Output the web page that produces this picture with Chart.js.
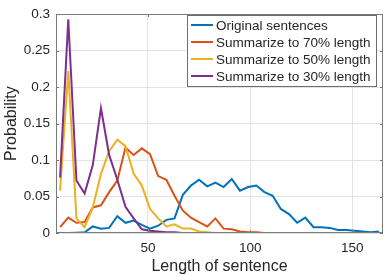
<!DOCTYPE html>
<html>
<head>
<meta charset="utf-8">
<script src="https://cdn.jsdelivr.net/npm/chart.js@4/dist/chart.umd.min.js"></script>
<style>
  html, body { margin: 0; padding: 0; background: #fff; }
  #wrap { width: 390px; height: 276px; }
</style>
</head>
<body>
<div id="wrap"><canvas id="lenChart" width="390" height="276"></canvas></div>
<script>
  // sentence length bins (x axis)
  const lengths = [7, 11, 15, 19, 23, 27, 31, 35, 39, 43, 47, 51, 55, 59, 63, 67, 71, 75, 79, 83,
                   87, 91, 95, 99, 103, 107, 111, 115, 119, 123, 127, 131, 135, 139, 143, 147, 151, 155, 159, 163];

  const seriesNames = ['Original sentences', 'Summarize to 70% length', 'Summarize to 50% length', 'Summarize to 30% length'];

  const original = [0, 0, 0.0005, 0.001, 0.009, 0.006, 0.007, 0.023, 0.014, 0.017, 0.011, 0.006, 0.010, 0.018, 0.020, 0.052, 0.065, 0.073, 0.064, 0.069,
                    0.063, 0.074, 0.058, 0.063, 0.065, 0.056, 0.051, 0.033, 0.026, 0.014, 0.021, 0.008, 0.008, 0.007, 0.004, 0.004, 0.003, 0.002, 0.001, 0.002];
  const sum70 = [0.008, 0.021, 0.014, 0.015, 0.035, 0.038, 0.056, 0.072, 0.117, 0.107, 0.116, 0.108, 0.078, 0.073, 0.051, 0.031, 0.021, 0.015, 0.009, 0.020,
                 0.006, 0.005, 0.002, 0.001, 0.001, 0, 0, 0, 0, 0, 0, 0, 0, 0, 0, 0, 0, 0, 0, 0];
  const sum50 = [0.058, 0.222, 0.020, 0.008, 0.035, 0.081, 0.112, 0.128, 0.119, 0.081, 0.065, 0.033, 0.020, 0.009, 0.012, 0.006, 0.006, 0.002, 0.001, 0,
                 0, 0, 0, 0, 0, 0, 0, 0, 0, 0, 0, 0, 0, 0, 0, 0, 0, 0, 0, 0];
  const sum30 = [0.076, 0.293, 0.072, 0.054, 0.093, 0.171, 0.107, 0.073, 0.036, 0.020, 0.005, 0.003, 0.002, 0.001, 0.001, 0, 0, 0, 0, 0,
                 0, 0, 0, 0, 0, 0, 0, 0, 0, 0, 0, 0, 0, 0, 0, 0, 0, 0, 0, 0];

  const xTicks = [50, 100, 150];
  const yTicks = [0, 0.05, 0.1, 0.15, 0.2, 0.25, 0.3];

  const colors = ['#0072BD', '#D95319', '#EDB120', '#7E2F8E'];
  const allSeries = [original, sum70, sum50, sum30];
  const FONT = '"Liberation Sans", Arial, Helvetica, sans-serif';
  const TEXT = '#262626';

  const datasets = allSeries.map((vals, i) => ({
    label: seriesNames[i],
    data: vals.map((v, j) => ({ x: lengths[j], y: v })),
    borderColor: colors[i],
    backgroundColor: colors[i],
    borderWidth: 2,
    pointRadius: 0,
    tension: 0,
    fill: false,
    order: 4 - i   // later series drawn on top, like matlab
  }));

  // frame, inward ticks and the legend box inside the axes
  const matlabAxes = {
    id: 'matlabAxes',
    afterDatasetsDraw(chart) {
      const c = chart.ctx;
      const a = chart.chartArea;
      const xs = chart.scales.x, ys = chart.scales.y;
      c.save();
      c.strokeStyle = '#7a7a7a';
      c.lineWidth = 1;
      c.strokeRect(Math.round(a.left) + 0.5, Math.round(a.top) + 0.5,
                   Math.round(a.right - a.left) - 1, Math.round(a.bottom - a.top) - 1);
      c.beginPath();
      xTicks.forEach(t => {
        const px = Math.round(xs.getPixelForValue(t)) + 0.5;
        c.moveTo(px, a.bottom); c.lineTo(px, a.bottom - 3);
        c.moveTo(px, a.top); c.lineTo(px, a.top + 3);
      });
      yTicks.forEach(t => {
        const py = Math.round(ys.getPixelForValue(t)) + 0.5;
        c.moveTo(a.left, py); c.lineTo(a.left + 3, py);
        c.moveTo(a.right, py); c.lineTo(a.right - 3, py);
      });
      c.stroke();

      // legend
      const bx = 187, by = 15, bw = 189, bh = 71;
      c.fillStyle = '#fff';
      c.fillRect(bx, by, bw, bh);
      c.strokeStyle = '#6e6e6e';
      c.strokeRect(bx + 0.5, by + 0.5, bw, bh);
      c.font = '13.5px ' + FONT;
      c.textBaseline = 'middle';
      c.textAlign = 'left';
      chart.data.datasets.forEach((ds, i) => {
        const yy = 25 + i * 17;
        c.strokeStyle = ds.borderColor;
        c.lineWidth = 2;
        c.beginPath();
        c.moveTo(191, yy); c.lineTo(213, yy);
        c.stroke();
        c.fillStyle = TEXT;
        c.fillText(ds.label, 216, yy + 1);
      });
      c.restore();
    }
  };

  const config = {
    type: 'line',
    data: { datasets: datasets },
    options: {
      responsive: false,
      animation: false,
      layout: { padding: { left: 0, top: 11, right: 7, bottom: 0 } },
      plugins: { legend: { display: false }, tooltip: { enabled: false } },
      scales: {
        x: {
          type: 'linear',
          min: 5,
          max: 165,
          afterBuildTicks: s => { s.ticks = xTicks.map(v => ({ value: v })); },
          afterFit: s => { s.height = 43; },
          grid: { color: '#e3e3e3', tickLength: 0, drawTicks: false },
          border: { display: false },
          ticks: { color: TEXT, font: { family: FONT, size: 13.5 }, padding: 7, maxRotation: 0 },
          title: { display: true, text: 'Length of sentence', color: TEXT,
                   font: { family: FONT, size: 16 }, padding: { top: 0, bottom: 0 } }
        },
        y: {
          min: 0,
          max: 0.3,
          afterBuildTicks: s => { s.ticks = yTicks.map(v => ({ value: v })); },
          afterFit: s => { s.width = 56; },
          grid: { color: '#e3e3e3', tickLength: 0, drawTicks: false },
          border: { display: false },
          ticks: { color: TEXT, font: { family: FONT, size: 13.5 }, padding: 6,
                   callback: v => String(+v.toFixed(2)) },
          title: { display: true, text: 'Probability', color: TEXT,
                   font: { family: FONT, size: 16 }, padding: { top: 2, bottom: 0 } }
        }
      }
    },
    plugins: [matlabAxes]
  };

  const ctx = document.getElementById('lenChart').getContext('2d');
  new Chart(ctx, config);
</script>
</body>
</html>
